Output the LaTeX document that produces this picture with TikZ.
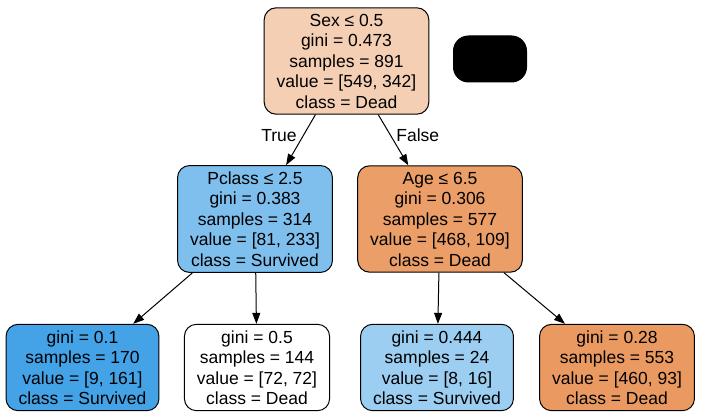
\documentclass[tikz,border=0pt]{standalone}
\usepackage{fontspec}
\setmainfont{Liberation Sans}
\usetikzlibrary{arrows.meta}

\definecolor{rootfill}{HTML}{F5CFB4}
\definecolor{pclassfill}{HTML}{7EBFEE}
\definecolor{agefill}{HTML}{EB9E67}
\definecolor{leafa}{HTML}{44A2E6}
\definecolor{leafc}{HTML}{9CCEF2}
\definecolor{leafd}{HTML}{EA9A61}

\tikzset{
  treenode/.style={draw, line width=1pt, rounded corners=12pt, align=center,
    inner xsep=12.5pt, inner ysep=6pt,
    font=\fontsize{17.5}{20.5}\selectfont},
  treeedge/.style={line width=1pt, -{Triangle[length=11pt,width=8pt]}},
  edgelabel/.style={font=\fontsize{17.5}{20.5}\selectfont}
}

\begin{document}
\begin{tikzpicture}[x=1pt,y=-1pt]
\useasboundingbox (0,0) rectangle (701,419);

\node[treenode, fill=rootfill] (root) at (346.5,61) {
  Sex ≤ 0.5\\ gini = 0.473\\ samples = 891\\ value = [549, 342]\\ class = Dead};
\node[draw, fill=black, line width=1pt, rounded corners=15pt,
  minimum width=73pt, minimum height=46pt] (blank) at (490,59) {};

\node[treenode, fill=pclassfill] (pclass) at (255,219) {
  Pclass ≤ 2.5\\ gini = 0.383\\ samples = 314\\ value = [81, 233]\\ class = Survived};
\node[treenode, fill=agefill] (age) at (440,219) {
  Age ≤ 6.5\\ gini = 0.306\\ samples = 577\\ value = [468, 109]\\ class = Dead};

% leaves
\node[treenode, fill=leafa] (leafone) at (82.5,367.5) {
  gini = 0.1\\ samples = 170\\ value = [9, 161]\\ class = Survived};
\node[treenode, fill=white] (leaftwo) at (257,367.5) {
  gini = 0.5\\ samples = 144\\ value = [72, 72]\\ class = Dead};
\node[treenode, fill=leafc] (leafthree) at (437,367.5) {
  gini = 0.444\\ samples = 24\\ value = [8, 16]\\ class = Survived};
\node[treenode, fill=leafd] (leaffour) at (617,367.5) {
  gini = 0.28\\ samples = 553\\ value = [460, 93]\\ class = Dead};

\draw[treeedge] (root) -- node[edgelabel, pos=0.41, left=3pt] {True} (pclass);
\draw[treeedge] (root) -- node[edgelabel, pos=0.41, right=2pt] {False} (age);
\draw[treeedge] (pclass) -- (leafone);
\draw[treeedge] (pclass) -- (leaftwo);
\draw[treeedge] (age) -- (leafthree);
\draw[treeedge] (age) -- (leaffour);
\end{tikzpicture}
\end{document}
